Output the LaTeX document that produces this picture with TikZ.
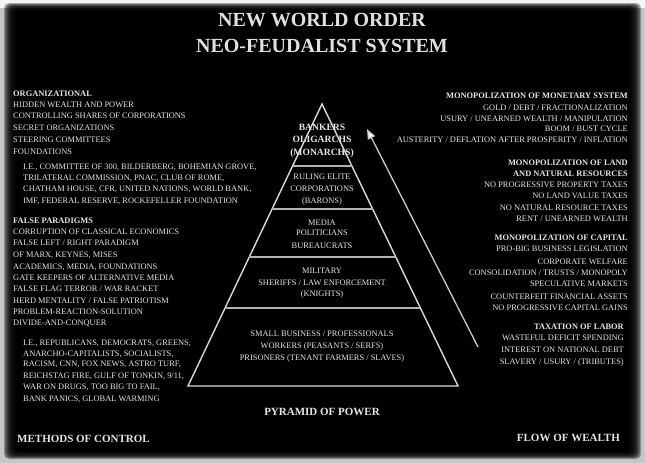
\documentclass[tikz,border=0pt]{standalone}
\usepackage{fontspec}
\setmainfont{Liberation Serif}
\usetikzlibrary{arrows.meta,calc}
\begin{document}
\begin{tikzpicture}[x=1pt,y=-1pt,
  txt/.style={text=white!90!black, inner sep=0pt, font=\fontsize{8.4}{9}\selectfont},
  hd/.style={txt, font=\fontsize{8.4}{9}\selectfont\bfseries},
  lt/.style={txt, anchor=base west},
  lh/.style={hd, anchor=base west},
  rt/.style={txt, anchor=base east},
  rh/.style={hd, anchor=base east},
  ct/.style={txt, anchor=base},
  ctop/.style={hd, anchor=base, font=\fontsize{9.6}{10}\selectfont\bfseries},
  big/.style={hd, font=\fontsize{11}{12}\selectfont\bfseries},
  ttl/.style={text=white!88!black, inner sep=0pt, anchor=base, font=\fontsize{20}{22}\selectfont\bfseries},
  pyr/.style={draw=white!85!black, line width=1.4pt, line join=miter},
  divl/.style={draw=white!70!black, line width=2pt},
  flow/.style={draw=white!80!black, line width=1.3pt, -{Triangle[width=8pt,length=10pt,fill=white]}}
]
\useasboundingbox (0,0) rectangle (645,463);
% background frame
\fill[gray!45] (0,0) rectangle (645,463);
\fill[white!92!gray] (0,0) rectangle (645,8);
\foreach \i in {0,...,9}{
  \fill[black, opacity=0.3, rounded corners=5pt] (4+\i*1.2, 3+\i*0.8) rectangle (641-\i*1.2, 459-\i*0.8);
}
\fill[black] (16,11) rectangle (629,451);

% titles
\node[ttl] (t1) at (322,26) {NEW WORLD ORDER};
\node[ttl] (t2) at (322,52) {NEO-FEUDALIST SYSTEM};

% pyramid
\coordinate (apex) at (322,104);
\coordinate (bl) at (188,386);
\coordinate (br) at (458,386);
\draw[pyr] (bl) -- (apex) -- (br) -- cycle;
\foreach \t/\n in {0.2199/a,0.3723/b,0.5426/c,0.7234/d}{
  \draw[divl] ($(apex)!\t!(bl)$) -- ($(apex)!\t!(br)$);
}

% pyramid labels
\node[ctop] (p1) at (322,130.5) {BANKERS};
\node[ctop] (p2) at (322,142.5) {OLIGARCHS};
\node[ctop] (p3) at (322,155.5) {(MONARCHS)};
\node[ct] (p4) at (322,179) {RULING ELITE};
\node[ct] (p5) at (322,191) {CORPORATIONS};
\node[ct] (p6) at (322,203) {(BARONS)};
\node[ct] (p7) at (322,225) {MEDIA};
\node[ct] (p8) at (322,235.5) {POLITICIANS};
\node[ct] (p9) at (322,248) {BUREAUCRATS};
\node[ct] (p10) at (322,273) {MILITARY};
\node[ct] (p11) at (322,285) {SHERIFFS / LAW ENFORCEMENT};
\node[ct] (p12) at (322,296) {(KNIGHTS)};
\node[ct] (p13) at (322,336) {SMALL BUSINESS / PROFESSIONALS};
\node[ct] (p14) at (322,348) {WORKERS (PEASANTS / SERFS)};
\node[ct] (p15) at (322,360) {PRISONERS (TENANT FARMERS / SLAVES)};
\node[big, anchor=base] (pp) at (322,415) {PYRAMID OF POWER};

% flow arrow
\coordinate (af) at (478,347);
\coordinate (at) at (367,129);
\draw[flow] (af) -- (at);

% left column
\node[lh] (l1) at (13,96) {ORGANIZATIONAL};
\node[lt] (l2) at (13,107) {HIDDEN WEALTH AND POWER};
\node[lt] (l3) at (13,118) {CONTROLLING SHARES OF CORPORATIONS};
\node[lt] (l4) at (13,130.5) {SECRET ORGANIZATIONS};
\node[lt] (l5) at (13,142) {STEERING COMMITTEES};
\node[lt] (l6) at (13,154) {FOUNDATIONS};
\node[lt] (l7) at (23,169) {I.E., COMMITTEE OF 300, BILDERBERG, BOHEMIAN GROVE,};
\node[lt] (l8) at (23,180) {TRILATERAL COMMISSION, PNAC, CLUB OF ROME,};
\node[lt] (l9) at (23,191.5) {CHATHAM HOUSE, CFR, UNITED NATIONS, WORLD BANK,};
\node[lt] (l10) at (23,203) {IMF, FEDERAL RESERVE, ROCKEFELLER FOUNDATION};
\node[lh] (l11) at (13,223) {FALSE PARADIGMS};
\node[lt] (l12) at (13,234) {CORRUPTION OF CLASSICAL ECONOMICS};
\node[lt] (l13) at (13,245) {FALSE LEFT / RIGHT PARADIGM};
\node[lt] (l14) at (13,257) {OF MARX, KEYNES, MISES};
\node[lt] (l15) at (13,269) {ACADEMICS, MEDIA, FOUNDATIONS};
\node[lt] (l16) at (13,280) {GATE KEEPERS OF ALTERNATIVE MEDIA};
\node[lt] (l17) at (13,291) {FALSE FLAG TERROR / WAR RACKET};
\node[lt] (l18) at (13,303) {HERD MENTALITY / FALSE PATRIOTISM};
\node[lt] (l19) at (13,314) {PROBLEM-REACTION-SOLUTION};
\node[lt] (l20) at (13,325.5) {DIVIDE-AND-CONQUER};
\node[lt] (l21) at (23,345) {I.E., REPUBLICANS, DEMOCRATS, GREENS,};
\node[lt] (l22) at (23,356) {ANARCHO-CAPITALISTS, SOCIALISTS,};
\node[lt] (l23) at (23,366.5) {RACISM, CNN, FOX NEWS, ASTRO TURF,};
\node[lt] (l24) at (23,378) {REICHSTAG FIRE, GULF OF TONKIN, 9/11,};
\node[lt] (l25) at (23,389.5) {WAR ON DRUGS, TOO BIG TO FAIL,};
\node[lt] (l26) at (23,401) {BANK PANICS, GLOBAL WARMING};
\node[big, anchor=base west] (l27) at (17,442) {METHODS OF CONTROL};

% right column
\node[rh] (r1) at (628,98) {MONOPOLIZATION OF MONETARY SYSTEM};
\node[rt] (r2) at (628,110) {GOLD / DEBT / FRACTIONALIZATION};
\node[rt] (r3) at (628,121) {USURY / UNEARNED WEALTH / MANIPULATION};
\node[rt] (r4) at (628,131.5) {BOOM / BUST CYCLE};
\node[rt] (r5) at (628,142.5) {AUSTERITY / DEFLATION AFTER PROSPERITY / INFLATION};
\node[rh] (r6) at (628,165) {MONOPOLIZATION OF LAND};
\node[rh] (r7) at (628,176) {AND NATURAL RESOURCES};
\node[rt] (r8) at (628,187) {NO PROGRESSIVE PROPERTY TAXES};
\node[rt] (r9) at (628,198.5) {NO LAND VALUE TAXES};
\node[rt] (r10) at (628,210) {NO NATURAL RESOURCE TAXES};
\node[rt] (r11) at (628,221) {RENT / UNEARNED WEALTH};
\node[rh] (r12) at (628,240) {MONOPOLIZATION OF CAPITAL};
\node[rt] (r13) at (628,251.5) {PRO-BIG BUSINESS LEGISLATION};
\node[rt] (r14) at (628,264) {CORPORATE WELFARE};
\node[rt] (r15) at (628,275) {CONSOLIDATION / TRUSTS / MONOPOLY};
\node[rt] (r16) at (628,286.5) {SPECULATIVE MARKETS};
\node[rt] (r17) at (628,299) {COUNTERFEIT FINANCIAL ASSETS};
\node[rt] (r18) at (628,310) {NO PROGRESSIVE CAPITAL GAINS};
\node[rh] (r19) at (624,329) {TAXATION OF LABOR};
\node[rt] (r20) at (624,340.5) {WASTEFUL DEFICIT SPENDING};
\node[rt] (r21) at (624,352) {INTEREST ON NATIONAL DEBT};
\node[rt] (r22) at (624,364) {SLAVERY / USURY / (TRIBUTES)};
\node[big, anchor=base east] (r23) at (620,441.5) {FLOW OF WEALTH};
\end{tikzpicture}
\end{document}
